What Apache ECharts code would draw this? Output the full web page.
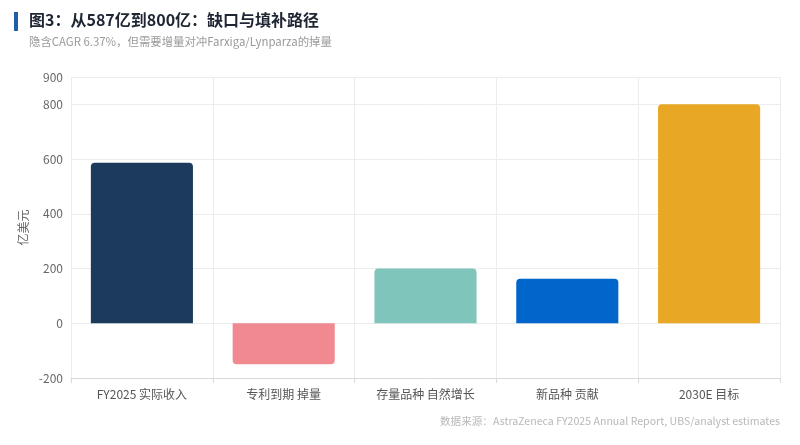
<!DOCTYPE html>
<html>
<head>
<meta charset="utf-8">
<script src="https://cdn.jsdelivr.net/npm/echarts@6/dist/echarts.min.js"></script>
<style>
  html, body { margin: 0; padding: 0; background: #fff; }
  #chart { width: 800px; height: 445px; }
</style>
</head>
<body>
<div id="chart"></div>
<script>
// 类别与数值（亿美元）
var categories = ['FY2025 实际收入', '专利到期 掉量', '存量品种 自然增长', '新品种 贡献', '2030E 目标'];
var values = [587, -150, 200, 163, 800];
var barColors = ['#1b3a5c', '#f08a90', '#80c5bc', '#0066cc', '#e8a825'];

var FONT = '"Noto Sans CJK SC", "Noto Sans", sans-serif';

var myChart = echarts.init(document.getElementById('chart'));

myChart.setOption({
  backgroundColor: '#fff',
  textStyle: { fontFamily: FONT },
  graphic: [
    { type: 'rect', left: 14, top: 12, shape: { width: 4, height: 19 }, style: { fill: '#1f5fa8' } },
    { type: 'text', left: 29, top: 12, style: { text: '图3：从587亿到800亿：缺口与填补路径', fill: '#1f2633', font: 'bold 16px ' + FONT } },
    { type: 'text', left: 29, top: 36, style: { text: '隐含CAGR 6.37%，但需要增量对冲Farxiga/Lynparza的掉量', fill: '#9a9a9a', font: '11.4px ' + FONT } },
    { type: 'text', right: 20, top: 416, style: { text: '数据来源：AstraZeneca FY2025 Annual Report, UBS/analyst estimates', fill: '#b8b8b8', font: '10.6px ' + FONT } }
  ],
  grid: { left: 71, right: 20, top: 77, bottom: 67 },
  xAxis: {
    type: 'category',
    data: categories,
    axisLine: { onZero: false, lineStyle: { color: '#d9d9d9' } },
    axisTick: { show: true, length: 5, lineStyle: { color: '#d9d9d9' } },
    splitLine: { show: true, lineStyle: { color: '#ececec' } },
    axisLabel: { color: '#555', fontSize: 12, margin: 10, fontFamily: FONT }
  },
  yAxis: {
    type: 'value',
    min: -200,
    max: 900,
    interval: 200,
    name: '亿美元',
    nameLocation: 'middle',
    nameGap: 42,
    nameMoveOverlap: false,
    nameTextStyle: { color: '#666', fontSize: 12, fontFamily: FONT },
    axisLine: { show: false },
    axisTick: { show: false },
    splitLine: { lineStyle: { color: '#ececec' } },
    axisLabel: { color: '#666', fontSize: 12, fontFamily: FONT }
  },
  series: [{
    type: 'bar',
    barWidth: '72%',
    data: values.map(function (v, i) {
      return {
        value: v,
        itemStyle: {
          color: barColors[i],
          borderRadius: v < 0 ? [0, 0, 4, 4] : [4, 4, 0, 0]
        }
      };
    })
  }]
});
</script>
</body>
</html>
